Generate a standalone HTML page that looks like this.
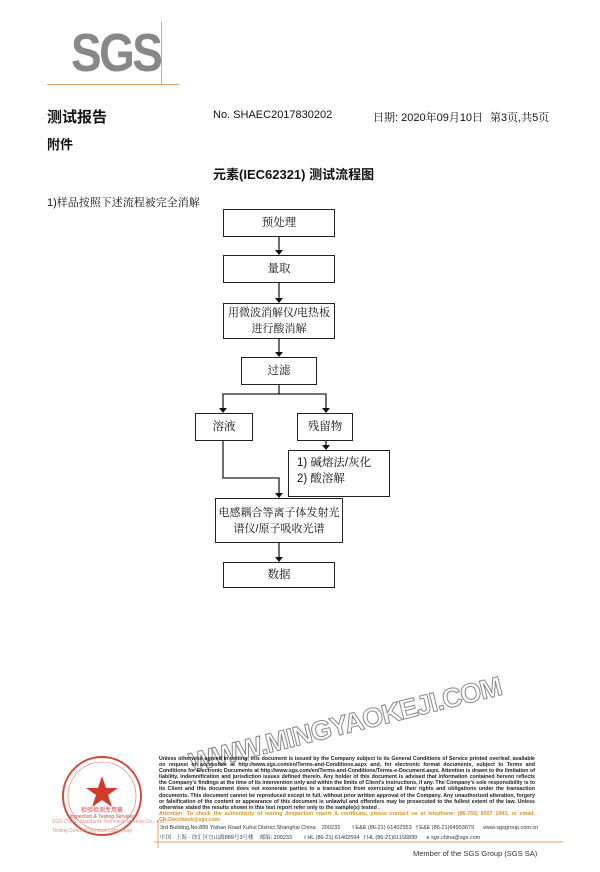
<!DOCTYPE html>
<html><head><meta charset="utf-8"><style>
body{margin:0;width:600px;height:872px;background:#fff;position:relative;overflow:hidden;font-family:"Liberation Sans","Noto Serif CJK SC",serif;color:#111}
.a{position:absolute;white-space:nowrap}
.b{position:absolute;border:1px solid #222;box-sizing:border-box;display:flex;align-items:center;justify-content:center;text-align:center;font-size:11.5px;line-height:16px}
.h{position:absolute;background:#222}
.ft{position:absolute;left:159px;top:756px;width:376px;font-size:5.3px;line-height:6.1px;font-weight:bold;color:#222;text-align:justify;font-family:"Liberation Sans",sans-serif}
</style></head><body>
<div class="a" style="left:71px;top:22px;font:bold 54px 'Liberation Sans',sans-serif;color:#888;letter-spacing:-3px;transform:scaleX(.85);transform-origin:left">SGS</div>
<div class="a" style="left:47px;top:84px;width:132px;height:1px;background:#e8a060"></div>
<div class="a" style="left:161px;top:22px;width:1px;height:62px;background:#e8a060"></div>
<div class="a" style="left:47px;top:106px;font:bold 15px 'Liberation Sans','Noto Sans CJK SC',sans-serif">测试报告</div>
<div class="a" style="left:213px;top:109px;font-size:11px;font-family:'Liberation Sans',sans-serif">No. SHAEC2017830202</div>
<div class="a" style="left:373px;top:109px;font-size:11px">日期: 2020年09月10日</div>
<div class="a" style="left:490px;top:109px;font-size:11px">第3页,共5页</div>
<div class="a" style="left:47px;top:134px;font:bold 13px 'Liberation Sans','Noto Sans CJK SC',sans-serif">附件</div>
<div class="a" style="left:213px;top:164px;font:bold 13px 'Liberation Sans','Noto Sans CJK SC',sans-serif">元素(IEC62321) 测试流程图</div>
<div class="a" style="left:47px;top:194px;font-size:11px">1)样品按照下述流程被完全消解</div>

<div class="b" style="left:223px;top:209px;width:112px;height:28px">预处理</div>
<div class="b" style="left:223px;top:255px;width:112px;height:28px">量取</div>
<div class="b" style="left:223px;top:303px;width:112px;height:36px;white-space:nowrap;font-size:11px">用微波消解仪/电热板<br>进行酸消解</div>
<div class="b" style="left:241px;top:357px;width:76px;height:28px">过滤</div>
<div class="b" style="left:195px;top:413px;width:58px;height:28px">溶液</div>
<div class="b" style="left:297px;top:413px;width:56px;height:28px">残留物</div>
<div class="b" style="left:288px;top:450px;width:102px;height:47px;justify-content:flex-start;align-items:flex-start;text-align:left;padding:4px 0 0 8px">1) 碱熔法/灰化<br>2) 酸溶解</div>
<div class="b" style="left:215px;top:498px;width:128px;height:45px;white-space:nowrap;font-size:11px">电感耦合等离子体发射光<br>谱仪/原子吸收光谱</div>
<div class="b" style="left:223px;top:562px;width:112px;height:26px">数据</div>

<svg class="a" style="left:0;top:0" width="600" height="872">
<g stroke="#222" stroke-width="1.3" fill="none">
<line x1="279" y1="237" x2="279" y2="250"/><line x1="279" y1="283" x2="279" y2="298"/>
<line x1="279" y1="339" x2="279" y2="352"/><line x1="279" y1="385" x2="279" y2="394"/>
<polyline points="223,408 223,394 326,394 326,408"/>
<line x1="326" y1="441" x2="326" y2="445"/>
<polyline points="223,441 223,478 279,478 279,493"/>
<line x1="279" y1="543" x2="279" y2="557"/>
</g>
<g fill="#111">
<polygon points="275,250 283,250 279,255"/><polygon points="275,298 283,298 279,303"/>
<polygon points="275,352 283,352 279,357"/><polygon points="219,408 227,408 223,413"/>
<polygon points="322,408 330,408 326,413"/><polygon points="322,445 330,445 326,450"/>
<polygon points="275,493 283,493 279,498"/><polygon points="275,557 283,557 279,562"/>
</g>
<circle cx="102" cy="796" r="39" fill="none" stroke="#d24a3a" stroke-width="2"/>
<circle cx="102" cy="796" r="34" fill="none" stroke="#e07060" stroke-width="0.6"/>
<polygon points="102,776 106,788 118,788 108,795 112,807 102,800 92,807 96,795 86,788 98,788" fill="#d23a2a"/>
<text x="102" y="818" font-size="5" fill="#c44" text-anchor="middle" font-family="Liberation Sans">Inspection &amp; Testing Services</text>
<text x="102" y="812" font-size="6" fill="#c44" text-anchor="middle" font-family="Noto Sans CJK SC">检验检测专用章</text>
<text x="52" y="823" font-size="5" fill="#c98" font-family="Liberation Sans">SGS-CSTC Standards Technical Services Co., Ltd.</text>
<text x="52" y="832" font-size="5" fill="#c98" font-family="Liberation Sans">Testing Center-Chemical Laboratory</text>
<line x1="154" y1="842" x2="563" y2="842" stroke="#e8a060" stroke-width="1"/>
<line x1="158" y1="820" x2="158" y2="848" stroke="#e8a060" stroke-width="1"/>
<text transform="translate(192,772) rotate(-14)" font-size="27" font-family="Liberation Sans" font-weight="bold" fill="#fff" stroke="#888" stroke-width="1" letter-spacing="-1">WWW.MINGYAOKEJI.COM</text>
</svg>
<div class="ft">Unless otherwise agreed in writing, this document is issued by the Company subject to its General Conditions of Service printed overleaf, available on request or accessible at http://www.sgs.com/en/Terms-and-Conditions.aspx and, for electronic format documents, subject to Terms and Conditions for Electronic Documents at http://www.sgs.com/en/Terms-and-Conditions/Terms-e-Document.aspx. Attention is drawn to the limitation of liability, indemnification and jurisdiction issues defined therein. Any holder of this document is advised that information contained hereon reflects the Company's findings at the time of its intervention only and within the limits of Client's instructions, if any. The Company's sole responsibility is to its Client and this document does not exonerate parties to a transaction from exercising all their rights and obligations under the transaction documents. This document cannot be reproduced except in full, without prior written approval of the Company. Any unauthorized alteration, forgery or falsification of the content or appearance of this document is unlawful and offenders may be prosecuted to the fullest extent of the law. Unless otherwise stated the results shown in this test report refer only to the sample(s) tested .<br><span style="color:#d9902a">Attention: To check the authenticity of testing /inspection report &amp; certificate, please contact us at telephone: (86-755) 8307 1443, or email: CN.Doccheck@sgs.com</span></div>
<div class="a" style="left:160px;top:825px;font-size:5.5px;font-family:'Liberation Sans',sans-serif;color:#333">3rd Building,No.889 Yishan Road Xuhui District,Shanghai China &nbsp;&nbsp; 200233 &nbsp;&nbsp;&nbsp;&nbsp;&nbsp;&nbsp; t E&amp;E (86-21) 61402553 &nbsp; f E&amp;E (86-21)64953679 &nbsp;&nbsp;&nbsp;&nbsp; www.sgsgroup.com.cn</div>
<div class="a" style="left:160px;top:833px;font-size:5.5px;color:#333">中国 · 上海 · 徐汇区宜山路889号3号楼 &nbsp;&nbsp; 邮编: 200233 &nbsp;&nbsp;&nbsp;&nbsp;&nbsp;&nbsp; t HL (86-21) 61402594 &nbsp; f HL (86-21)61156899 &nbsp;&nbsp;&nbsp;&nbsp; e sgs.china@sgs.com</div>
<div class="a" style="left:413px;top:849px;font-size:7.5px;font-family:'Liberation Sans',sans-serif;color:#333">Member of the SGS Group (SGS SA)</div>
</body></html>
